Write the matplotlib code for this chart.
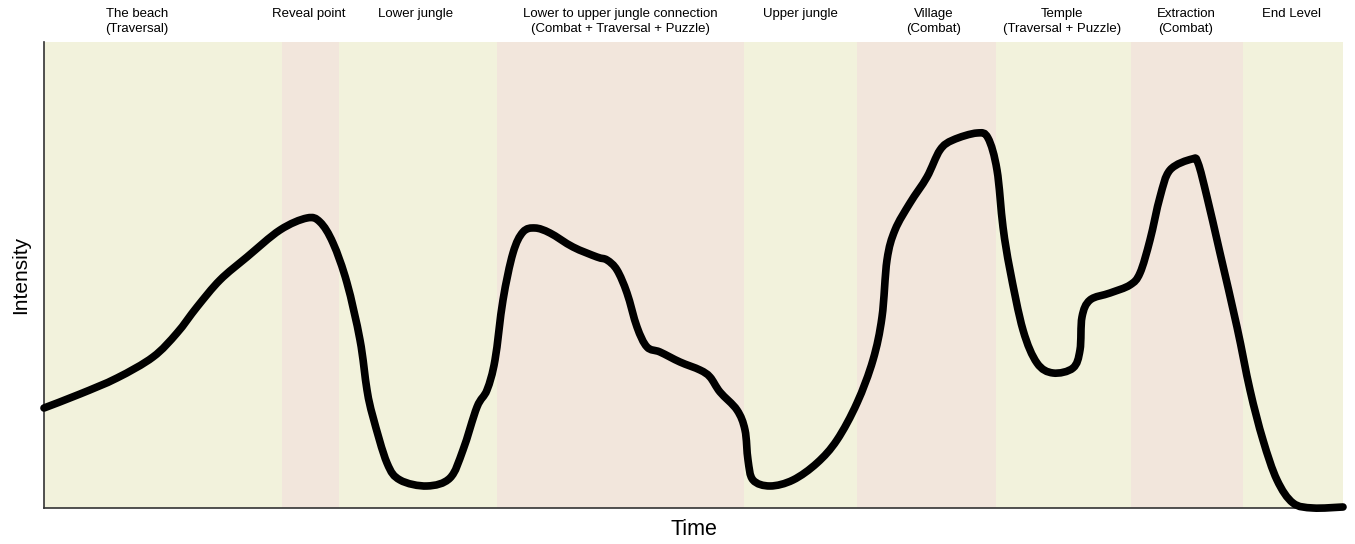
import numpy as np
import matplotlib.pyplot as plt
from matplotlib.path import Path
from matplotlib.patches import PathPatch
from matplotlib.transforms import blended_transform_factory

# level sections: start/end on the time axis, label, shading
section_start = [0, 238, 295, 453, 700, 813, 952, 1087, 1199]
section_end = [238, 295, 453, 700, 813, 952, 1087, 1199, 1299]
section_names = ['The beach\n(Traversal)', 'Reveal point', 'Lower jungle',
                 'Lower to upper jungle connection\n(Combat + Traversal + Puzzle)',
                 'Upper jungle', 'Village\n(Combat)', 'Temple\n(Traversal + Puzzle)',
                 'Extraction\n(Combat)', 'End Level']
section_kind = ['calm', 'tense', 'calm', 'tense', 'calm', 'tense', 'calm', 'tense', 'calm']
label_x = [93, 265, 372, 576, 756, 890, 1018, 1142, 1248]

# intensity curve
time = [0, 36, 73, 109, 133, 153, 176, 203, 236, 263, 276, 289, 303, 316, 323, 329,
        343, 356, 383, 406, 419, 433, 443, 451, 459, 469, 479, 491, 506, 529, 553,
        563, 573, 583, 593, 603, 616, 636, 656, 666, 676, 693, 701, 704, 709, 726,
        749, 773, 793, 813, 829, 838, 843, 851, 866, 883, 896, 909, 933, 944, 953,
        959, 966, 979, 993, 1009, 1029, 1036, 1038, 1046, 1066, 1086, 1096, 1106,
        1116, 1126, 1148, 1154, 1163, 1176, 1193, 1206, 1219, 1233, 1249, 1269, 1299]
intensity = [100, 114, 130, 151, 175, 201, 228, 251, 278, 290, 286, 265, 225, 168,
             118, 91, 45, 28, 22, 30, 58, 101, 118, 148, 208, 255, 276, 280, 275,
             261, 251, 248, 238, 215, 181, 161, 156, 146, 138, 131, 116, 98, 78, 48,
             28, 22, 28, 45, 68, 105, 148, 191, 248, 278, 305, 331, 358, 368, 375,
             370, 338, 281, 238, 178, 145, 135, 140, 158, 191, 208, 215, 223, 235,
             268, 311, 338, 349, 345, 311, 255, 181, 118, 68, 28, 5, 0, 1]

colors = {'calm': '#f2f2dc', 'tense': '#f2e6dc'}


def smooth_path(x, y):
    # draw through the read points with bezier segments (catmull-rom tangents)
    p = np.column_stack([x, y]).astype(float)
    verts = [p[0]]
    codes = [Path.MOVETO]
    for i in range(len(p) - 1):
        p0 = p[max(i - 1, 0)]
        p1, p2 = p[i], p[i + 1]
        p3 = p[min(i + 2, len(p) - 1)]
        verts += [p1 + (p2 - p0) / 6, p2 - (p3 - p1) / 6, p2]
        codes += [Path.CURVE4] * 3
    return Path(verts, codes)


plt.rcParams['font.family'] = ['Liberation Sans', 'DejaVu Sans']
fig = plt.figure(figsize=(13.55, 5.44), dpi=100)
ax = fig.add_axes([44 / 1355, 36 / 544, 1299 / 1355, 466 / 544])

for s, e, k in zip(section_start, section_end, section_kind):
    ax.axvspan(s, e, color=colors[k], lw=0, zorder=0)

trans = blended_transform_factory(ax.transData, fig.transFigure)
for x, name in zip(label_x, section_names):
    ax.text(x, 1 - 8 / 544, name, transform=trans, ha='center', va='top',
            fontsize=9.5, linespacing=1.3)

curve = PathPatch(smooth_path(time, intensity), facecolor='none', edgecolor='black',
                  lw=5.5, capstyle='round', joinstyle='round', clip_on=False, zorder=3)
ax.add_patch(curve)

ax.set_xlim(0, 1299)
ax.set_ylim(0, 466)
ax.set_xticks([])
ax.set_yticks([])
for side in ['top', 'right']:
    ax.spines[side].set_visible(False)
for side in ['left', 'bottom']:
    ax.spines[side].set_color('#333333')
    ax.spines[side].set_linewidth(1.2)
ax.set_xlabel('Time', fontsize=15.5, labelpad=8)
ax.set_ylabel('Intensity', fontsize=15, labelpad=10)

fig.savefig('out.png', dpi=100)
